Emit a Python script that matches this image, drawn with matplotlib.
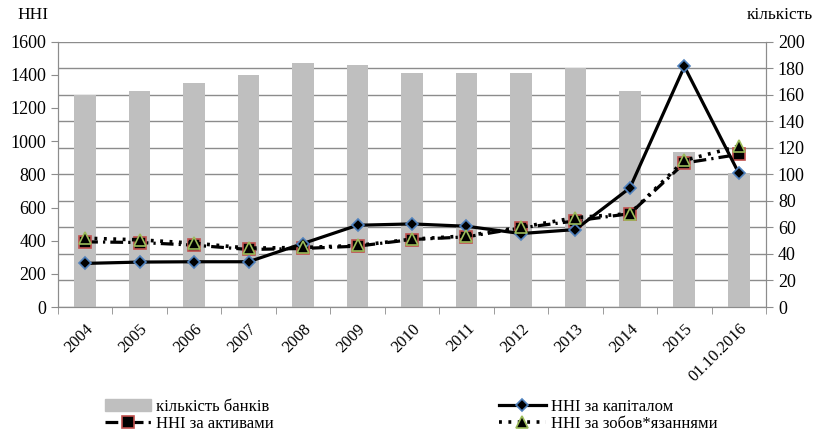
import numpy as np
import matplotlib.pyplot as plt

plt.rcParams['font.family'] = 'serif'
plt.rcParams['font.serif'] = ['Liberation Serif', 'Times New Roman', 'DejaVu Serif']

years = ['2004', '2005', '2006', '2007', '2008', '2009', '2010', '2011',
         '2012', '2013', '2014', '2015', '01.10.2016']
banks = [160, 163, 169, 175, 184, 182, 176, 176, 176, 180, 163, 117, 101]
hhi_capital = [263, 271, 273, 273, 383, 493, 501, 487, 443, 467, 718, 1450, 806]
hhi_assets = [393, 389, 373, 347, 353, 367, 407, 423, 477, 519, 563, 868, 920]
hhi_liab = [415, 405, 385, 355, 359, 371, 409, 429, 481, 539, 563, 884, 970]

x = np.arange(len(years))
grey = '#8c8c8c'

fig = plt.figure(figsize=(8.15, 4.38), dpi=100)
ax = fig.add_axes([0.071, 0.299, 0.869, 0.606])
ax2 = ax.twinx()

# bars on the right axis, kept underneath the HHI lines
ax2.bar(x, banks, width=0.4, color='#bfbfbf', zorder=2)
ax2.set_ylim(0, 200)
ax2.set_yticks(np.arange(0, 201, 20))
ax2.grid(axis='y', color=grey, linewidth=1, zorder=0)
ax2.set_axisbelow(True)

ax.set_zorder(ax2.get_zorder() + 1)
ax.patch.set_visible(False)

ax.plot(x, hhi_capital, color='black', lw=2.3, marker='D', ms=6,
        mfc='black', mec='#4f81bd', mew=1.2, zorder=5)
ax.plot(x, hhi_assets, color='black', lw=2.3, dashes=(4, 1.6, 0.7, 1.6),
        marker='s', ms=8, mfc='black', mec='#c0504d', mew=1.2, zorder=4)
ax.plot(x, hhi_liab, color='black', lw=2.6, linestyle=(0, (0.8, 1.8)),
        marker='^', ms=8, mfc='black', mec='#9bbb59', mew=1.2, zorder=6)

ax.set_ylim(0, 1600)
ax.set_yticks(np.arange(0, 1601, 200))
ax.set_xlim(-0.5, len(years) - 0.5)
ax.set_xticks(x)
ax.set_xticklabels(years, rotation=45, ha='right', va='top', rotation_mode='anchor')
ax.set_xticks(np.arange(-0.5, len(years)), minor=True)
ax.tick_params(axis='x', which='major', length=0, pad=10, labelsize=12)
ax.tick_params(axis='x', which='minor', length=5, color=grey)
ax.tick_params(axis='y', length=5, color=grey, labelsize=13)
ax2.tick_params(axis='y', length=5, color=grey, labelsize=13)

for a in (ax, ax2):
    a.spines['top'].set_visible(False)
    for s in ('left', 'right', 'bottom'):
        a.spines[s].set_color(grey)

fig.text(0.022, 0.965, 'HHI', fontsize=12.5, va='center')
fig.text(0.997, 0.965, 'кількість', fontsize=12.5, va='center', ha='right')

handles = [
    plt.Rectangle((0, 0), 1, 1, color='#bfbfbf'),
    plt.Line2D([], [], color='black', lw=2.3, dashes=(4, 1.6, 0.7, 1.6),
               marker='s', ms=8, mfc='black', mec='#c0504d', mew=1.2),
    plt.Line2D([], [], color='black', lw=2.3, marker='D', ms=6,
               mfc='black', mec='#4f81bd', mew=1.2),
    plt.Line2D([], [], color='black', lw=2.6, linestyle=(0, (0.8, 1.8)),
               marker='^', ms=8, mfc='black', mec='#9bbb59', mew=1.2),
]
labels = ['кількість банків', 'HHI за активами', 'HHI за капіталом',
          'HHI за зобов*язаннями']
fig.legend(handles, labels, ncol=2, loc='lower left', bbox_to_anchor=(0.11, -0.02),
           frameon=False, fontsize=12, handlelength=2.8, handletextpad=0.3,
           columnspacing=13.5, labelspacing=0.05)

fig.savefig('out.png', dpi=100)
